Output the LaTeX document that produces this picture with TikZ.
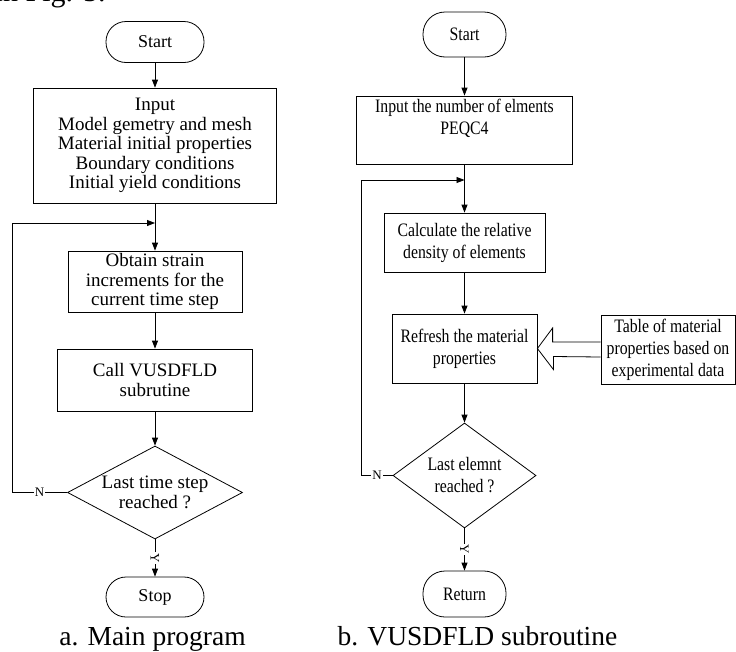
\documentclass[tikz,border=0pt]{standalone}
\usepackage{fontspec}
\setmainfont{Liberation Serif}
\newfontfamily\condfont[FakeStretch=0.83]{Liberation Serif}
\usetikzlibrary{arrows.meta,shapes.geometric,calc}
\begin{document}
\begin{tikzpicture}[x=1pt,y=-1pt, line width=0.8pt,
 box/.style={draw, rectangle, inner sep=0pt, align=center},
 term/.style={draw, rectangle, rounded corners=20pt, inner sep=0pt},
 dec/.style={draw, diamond, inner sep=0pt},
 arr/.style={-{Triangle[length=8pt,width=6pt]}},
 lbl/.style={font=\fontsize{13}{14}\selectfont, fill=white, inner sep=1pt},
 ta/.style={font=\fontsize{19}{19.5}\selectfont, align=center},
 tb/.style={font=\condfont\fontsize{19}{22}\selectfont, align=center},
 captext/.style={font=\fontsize{27.5}{30}\selectfont},
]
\useasboundingbox (0,0) rectangle (736,651);

% cut-off text at top
\node[font=\fontsize{30}{32}\selectfont, anchor=base east, inner sep=0pt] (topt) at (106,1.5) {in Fig. 5.};

% ---------- a. Main program ----------
\node[term, ta, font=\fontsize{18}{19}\selectfont, minimum width=98pt, minimum height=41pt] (startA) at (155,42) {Start};
\node[box, ta, minimum width=243pt, minimum height=115pt] (inA) at (155,145.5)
  {Input\\Model gemetry and mesh\\Material initial properties\\Boundary conditions\\Initial yield conditions};
\node[box, ta, minimum width=174pt, minimum height=61pt] (obA) at (155,281.5)
  {Obtain strain\\increments for the\\current time step};
\node[box, ta, minimum width=195pt, minimum height=62pt] (callA) at (155,380)
  {Call VUSDFLD\\subrutine};
\node[dec, minimum width=175pt, minimum height=93pt] (decA) at (155,492.5) {};
\node[ta] (decAt) at (decA.center) {Last time step\\reached ?};
\node[term, ta, font=\fontsize{18}{19}\selectfont, minimum width=98pt, minimum height=40pt] (stopA) at (155,597) {Stop};
\node[captext, anchor=base] (capA) at (152.5,645) {a. Main program};

\coordinate (jA) at (155,223);
\draw[arr] (startA) -- (inA);
\draw[arr] (inA) -- (obA);
\draw[arr] (obA) -- (callA);
\draw[arr] (callA) -- (decA);
\draw[arr] (decA) -- node[lbl, rotate=-90] {Y} (stopA);
\draw[arr] (decA.west) -- node[lbl] {N} ++(-55,0) |- (jA);

% ---------- b. VUSDFLD subroutine ----------
\node[term, tb, rounded corners=22pt, minimum width=83pt, minimum height=45pt] (startB) at (464.5,34.5) {Start};
\node[box, minimum width=216pt, minimum height=68pt] (inB) at (464.5,130) {};
\node[tb] (inBt) at (464.5,118) {Input the number of elments\\PEQC4};
\node[box, tb, minimum width=161pt, minimum height=59pt] (calcB) at (464.5,242.5)
  {Calculate the relative\\density of elements};
\node[box, tb, minimum width=145pt, minimum height=69pt] (refB) at (464.5,348.5)
  {Refresh the material\\properties};
\node[box, tb, minimum width=134pt, minimum height=69pt] (tabB) at (668,349.5)
  {Table of material\\properties based on\\experimental data};
\node[dec, minimum width=143pt, minimum height=105pt] (decB) at (464.5,475.5) {};
\node[tb] (decBt) at (decB.center) {Last elemnt\\reached ?};
\node[term, tb, rounded corners=22pt, minimum width=83pt, minimum height=46pt] (retB) at (464.5,594) {Return};
\node[captext, anchor=base] (capB) at (477.5,645) {b. VUSDFLD subroutine};

\coordinate (jB) at (464.5,180);
\draw[arr] (startB) -- (inB);
\draw[arr] (inB) -- (calcB);
\draw[arr] (calcB) -- (refB);
\draw[arr] (refB) -- (decB);
\draw[arr] (decB) -- node[lbl, rotate=-90] {Y} (retB);
\draw[arr] (decB.west) -- node[lbl] {N} ++(-31,0) |- (jB);

% block arrow from table to refresh box
\draw ($(tabB.west)+(0,-7.5)$) -- ++(-48,0) -- ++(0,-14) -- (refB.east)
      -- ++(16,21) -- ++(0,-13) -- ($(tabB.west)+(0,7.5)$);
\end{tikzpicture}
\end{document}
